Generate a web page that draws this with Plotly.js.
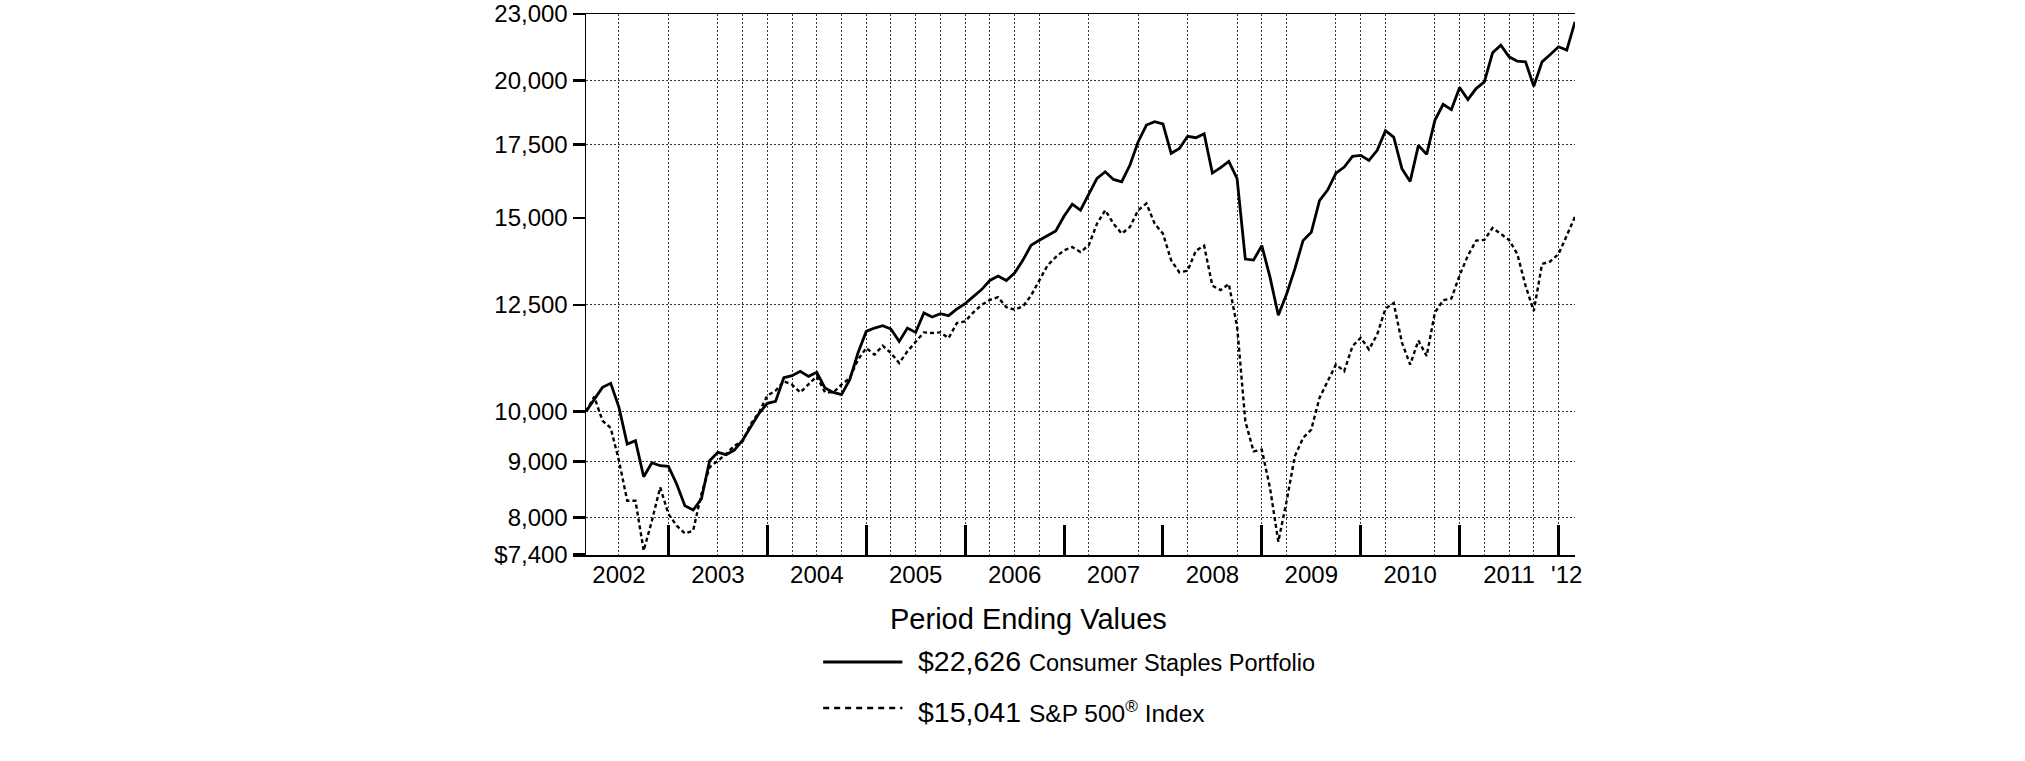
<!DOCTYPE html>
<html>
<head>
<meta charset="utf-8">
<script src="https://cdn.plot.ly/plotly-3.0.1.min.js"></script>
<style>
  html, body { margin: 0; padding: 0; background: #fff; }
  #chart { width: 2025px; height: 761px; }
</style>
</head>
<body>
<div id="chart"></div>
<script>
// month-end values, Feb 2002 .. Feb 2012 (121 points), $10,000 start
var staples = [
    10000, 10262, 10516, 10605, 10084, 9338, 9404, 8720, 8980, 8923, 8911, 8587,
    8206, 8132, 8322, 9017, 9176, 9131, 9221, 9416, 9684, 9958, 10169, 10212,
    10730, 10776, 10874, 10761, 10852, 10501, 10406, 10355, 10686, 11300, 11825, 11908,
    11966, 11883, 11580, 11908, 11800, 12289, 12186, 12272, 12221, 12394, 12533, 12728,
    12907, 13157, 13278, 13157, 13362, 13723, 14163, 14313, 14464, 14597, 15054, 15438,
    15245, 15767, 16295, 16525, 16261, 16182, 16759, 17598, 18225, 18353, 18264, 17175,
    17350, 17800, 17747, 17897, 16479, 16665, 16888, 16284, 13761, 13732, 14153, 13241,
    12231, 12784, 13475, 14303, 14556, 15557, 15910, 16479, 16688, 17067, 17103, 16924,
    17283, 18010, 17772, 16630, 16193, 17463, 17139, 18405, 19035, 18823, 19713, 19222,
    19672, 19950, 21203, 21548, 21025, 20835, 20806, 19770, 20806, 21128, 21472, 21322,
    22626
];

var sp500 = [
    10000, 10312, 9806, 9657, 9017, 8292, 8292, 7468, 7953, 8527, 8065, 7870,
    7744, 7787, 8410, 8894, 9017, 9144, 9305, 9390, 9738, 9979, 10334, 10443,
    10650, 10575, 10406, 10575, 10761, 10406, 10406, 10575, 10724, 11143, 11419, 11261,
    11476, 11300, 11066, 11340, 11580, 11800, 11784, 11800, 11661, 12034, 12076, 12306,
    12500, 12632, 12703, 12439, 12377, 12456, 12748, 13157, 13579, 13819, 14014, 14112,
    13965, 14162, 14819, 15245, 14819, 14515, 14719, 15245, 15460, 14819, 14515, 13723,
    13381, 13430, 14004, 14150, 13015, 12893, 13061, 11950, 9794, 9195, 9227, 8513,
    7610, 8277, 9100, 9457, 9625, 10287, 10653, 11032, 10878, 11465, 11668, 11385,
    11750, 12400, 12550, 11549, 11032, 11600, 11230, 12300, 12623, 12667, 13300, 13858,
    14303, 14323, 14689, 14505, 14323, 13907, 13011, 12342, 13618, 13694, 13907, 14454,
    15041
];

var seriesNames = ["$22,626", "$15,041"];
var seriesLabels = ["Consumer Staples Portfolio", "S&P 500<sup>®</sup> Index"];

var yTickVals = [23000, 20000, 17500, 15000, 12500, 10000, 9000, 8000, 7400];
var yTickText = ["23,000", "20,000", "17,500", "15,000", "12,500", "10,000", "9,000", "8,000", "$7,400"];
var yBoldTicks = [20000, 17500, 10000, 9000, 8000, 7400];
var yGridVals = [20000, 17500, 12500, 10000, 9000, 8000];

var yearLabels = ["2002", "2003", "2004", "2005", "2006", "2007", "2008", "2009", "2010", "2011", "'12"];
var yearLabelMonths = ["2002-06", "2003-06", "2004-06", "2005-06", "2006-06", "2007-06",
    "2008-06", "2009-06", "2010-06", "2011-06", "2012-01"];
var yearEndMonths = ["2002-12", "2003-12", "2004-12", "2005-12", "2006-12",
    "2007-12", "2008-12", "2009-12", "2010-12", "2011-12"];
var gridMonths = ["2002-06", "2002-12", "2003-06", "2003-09", "2003-12",
    "2004-03", "2004-06", "2004-09", "2004-12", "2005-03", "2005-06", "2005-09", "2005-12",
    "2006-03", "2006-06", "2006-09", "2007-03", "2007-09", "2008-03", "2008-09", "2008-12",
    "2009-03", "2009-09", "2009-12", "2010-03", "2010-09", "2010-12",
    "2011-03", "2011-06", "2011-09", "2011-12"];

// month index counted from Feb 2002
function monthIdx(s) {
    var p = s.split("-");
    return (parseInt(p[0]) - 2002) * 12 + (parseInt(p[1]) - 2);
}

var idx = staples.map(function (v, i) { return i; });
var font = "Liberation Sans, Arial, Helvetica, sans-serif";
var lastMonth = idx.length - 1;

var traces = [
    {
        x: idx, y: staples, mode: "lines", type: "scatter",
        line: { color: "#000", width: 2.8 },
        showlegend: false, hoverinfo: "skip"
    },
    {
        x: idx, y: sp500, mode: "lines", type: "scatter",
        line: { color: "#000", width: 2.4, dash: "4px,3px" },
        showlegend: false, hoverinfo: "skip"
    },
    // empty traces so the overlay axes get drawn
    { x: [], y: [], xaxis: "x2", yaxis: "y2", showlegend: false, hoverinfo: "skip" },
    { x: [], y: [], xaxis: "x3", yaxis: "y3", showlegend: false, hoverinfo: "skip" },
    { x: [], y: [], xaxis: "x4", yaxis: "y", showlegend: false, hoverinfo: "skip" }
];

var logRange = [Math.log10(7400), Math.log10(23000)];
var xRange = [0, lastMonth];

var layout = {
    width: 2025,
    height: 761,
    margin: { l: 586, r: 450, t: 14, b: 206 },
    paper_bgcolor: "#fff",
    plot_bgcolor: "#fff",
    font: { family: font, size: 24, color: "#000" },
    showlegend: false,
    xaxis: {
        range: xRange, showgrid: true, tickvals: gridMonths.map(monthIdx),
        gridcolor: "#333", gridwidth: 1, griddash: "2px,2px",
        ticks: "", showticklabels: false, zeroline: false,
        showline: true, linecolor: "#000", linewidth: 2
    },
    xaxis2: {
        overlaying: "x", anchor: "y", range: xRange,
        tickvals: yearLabelMonths.map(monthIdx), ticktext: yearLabels,
        ticks: "", ticklabelstandoff: 3, showgrid: false, zeroline: false, showline: false,
        tickfont: { size: 24, family: font, color: "#000" }
    },
    xaxis3: {
        overlaying: "x", anchor: "y", range: xRange,
        tickvals: yearEndMonths.map(monthIdx), ticks: "inside", ticklen: 30,
        tickwidth: 3, tickcolor: "#000", showticklabels: false,
        showgrid: false, zeroline: false, showline: false
    },
    xaxis4: {
        overlaying: "x", anchor: "y", side: "top", range: xRange,
        ticks: "", showticklabels: false, showgrid: false, zeroline: false,
        showline: true, linecolor: "#000", linewidth: 1.5
    },
    yaxis: {
        type: "log", range: logRange,
        tickvals: yTickVals, ticktext: yTickText,
        ticks: "outside", ticklen: 12, tickwidth: 1.5, tickcolor: "#000",
        showgrid: false, zeroline: false,
        showline: true, linecolor: "#000", linewidth: 1.5,
        tickfont: { size: 24, family: font, color: "#000" }
    },
    yaxis2: {
        overlaying: "y", anchor: "x", type: "log", range: logRange,
        tickvals: yBoldTicks, ticks: "outside", ticklen: 12, tickwidth: 3.2,
        tickcolor: "#000", showticklabels: false, showgrid: false, zeroline: false
    },
    yaxis3: {
        overlaying: "y", anchor: "x", type: "log", range: logRange,
        tickvals: yGridVals, ticks: "", showticklabels: false,
        showgrid: true, gridcolor: "#333", gridwidth: 1, griddash: "2px,2px",
        zeroline: false
    },
    annotations: [
        {
            xref: "paper", yref: "paper", x: 0.4472, y: -0.1187,
            xanchor: "center", yanchor: "middle", showarrow: false,
            text: "Period Ending Values", font: { size: 29, family: font, color: "#000" }
        },
        {
            xref: "paper", yref: "paper", x: 0.3341, y: -0.1963,
            xanchor: "left", yanchor: "middle", showarrow: false,
            text: seriesNames[0] + " <span style='font-size:23.5px'>" + seriesLabels[0] + "</span>",
            font: { size: 28.5, family: font, color: "#000" }
        },
        {
            xref: "paper", yref: "paper", x: 0.3341, y: -0.2902,
            xanchor: "left", yanchor: "middle", showarrow: false,
            text: seriesNames[1] + " <span style='font-size:24.5px'>" + seriesLabels[1] + "</span>",
            font: { size: 28.5, family: font, color: "#000" }
        }
    ],
    shapes: [
        {
            type: "line", xref: "paper", yref: "paper",
            x0: 0.2398, x1: 0.3199, y0: -0.1978, y1: -0.1978,
            line: { color: "#000", width: 3 }
        },
        {
            type: "line", xref: "paper", yref: "paper",
            x0: 0.2398, x1: 0.3199, y0: -0.2828, y1: -0.2828,
            line: { color: "#000", width: 2.5, dash: "6px,5px" }
        }
    ]
};

Plotly.newPlot("chart", traces, layout, { displayModeBar: false, staticPlot: true });
</script>
</body>
</html>
